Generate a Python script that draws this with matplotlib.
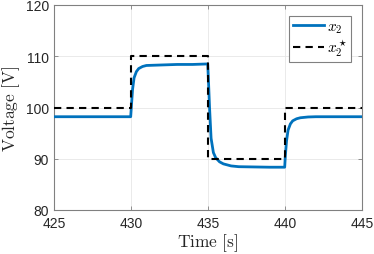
import matplotlib
matplotlib.use("Agg")
import matplotlib.pyplot as plt

# Data
t_ref = [425, 430, 435, 440, 445]
v_ref = [100, 110, 90, 100, 100]

t_x2 = [425, 429.98, 430.02, 430.1, 430.2, 430.35, 430.5, 430.75, 431, 432, 433, 434,
        434.98, 435.02, 435.1, 435.2, 435.35, 435.5, 435.75, 436, 436.5, 437, 438, 439,
        439.98, 440.02, 440.1, 440.2, 440.35, 440.5, 440.75, 441, 441.5, 442, 445]
v_x2 = [98.2, 98.2, 100.0, 103.5, 105.8, 107.0, 107.6, 108.0, 108.2, 108.3, 108.4, 108.4,
        108.5, 106.0, 100.0, 94.0, 91.2, 90.2, 89.4, 89.0, 88.6, 88.45, 88.4, 88.35,
        88.35, 90.5, 93.5, 95.6, 96.8, 97.4, 97.8, 98.0, 98.15, 98.2, 98.2]

x_ticks = [425, 430, 435, 440, 445]
y_ticks = [80, 90, 100, 110, 120]

plt.rcParams['mathtext.fontset'] = 'cm'
plt.rcParams['font.family'] = ['Liberation Sans', 'DejaVu Sans']

fig = plt.figure(figsize=(3.74, 2.55), dpi=100)
ax = fig.add_axes([54/374, 44/255, 308/374, 205/255])

ax.plot(t_x2, v_x2, color='#0072BD', lw=2.0, label=r'$x_2$', zorder=3)
ax.plot(t_ref, v_ref, color='black', lw=1.5, ls=(0, (3.5, 2.5)), drawstyle='steps-post',
        label=r'$x_2^\star$', zorder=4)

ax.set_xlim(425, 445)
ax.set_ylim(80, 120)
ax.set_xticks(x_ticks)
ax.set_yticks(y_ticks)
ax.grid(True, color='#e6e6e6', lw=0.6)
ax.set_axisbelow(True)
for s in ax.spines.values():
    s.set_color('#808080')
    s.set_linewidth(0.8)
ax.tick_params(direction='in', length=3, width=0.6, colors='#808080', labelcolor='#262626',
               labelsize=10, top=True, right=True)
ax.tick_params(axis='x', pad=4)
ax.set_xlabel(r'$\mathrm{Time\ [s]}$', fontsize=12.5, color='#262626', labelpad=1)
ax.set_ylabel(r'$\mathrm{Voltage\ [V]}$', fontsize=12.5, color='#262626', labelpad=3)

leg = ax.legend(loc='upper right', fontsize=11, handlelength=2.0, handletextpad=0.2,
                borderpad=0.25, labelspacing=0.15, fancybox=False, framealpha=1,
                borderaxespad=0.7)
leg.get_frame().set_edgecolor('#808080')
leg.get_frame().set_linewidth(0.8)

fig.savefig('out.png', dpi=100)
